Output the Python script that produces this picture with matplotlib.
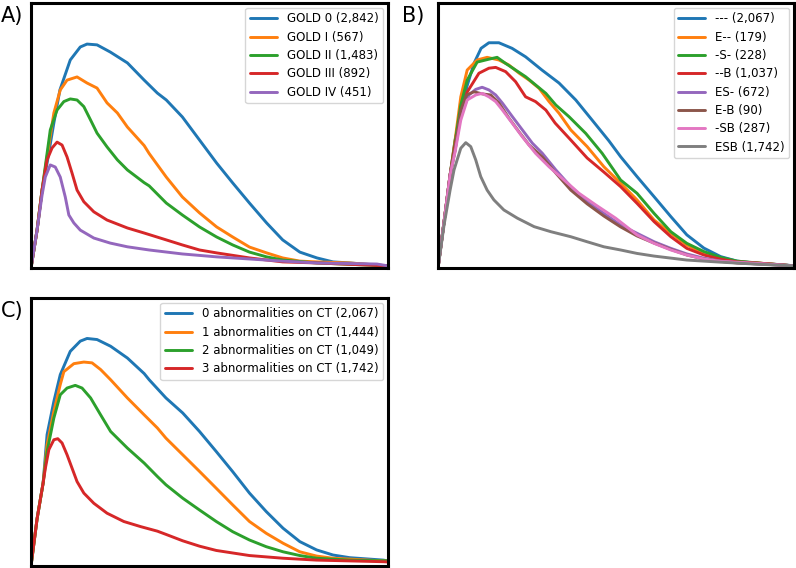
import matplotlib
matplotlib.use('Agg')
import matplotlib.pyplot as plt

# x: % of expired volume, y: flow (scaled so that the axes top is 10)

# ---- A) GOLD stages
gold_labels = ['GOLD 0 (2,842)', 'GOLD I (567)', 'GOLD II (1,483)', 'GOLD III (892)', 'GOLD IV (451)']

gold0_x = [0, 1.7, 3.1, 4.5, 6.4, 8.1, 11.0, 13.8, 15.7, 18.5, 22.2, 27.0, 31.7, 35.4, 37.9, 42.4, 47.2,
           52.0, 56.5, 61.2, 66.0, 70.5, 75.3, 80.1, 84.6, 89.3, 96.9, 100]
gold0_y = [0, 1.43, 2.94, 3.96, 5.47, 6.72, 7.85, 8.34, 8.45, 8.42, 8.15, 7.74, 7.09, 6.60, 6.34, 5.70, 4.83,
           3.96, 3.21, 2.45, 1.70, 1.06, 0.60, 0.38, 0.23, 0.19, 0.11, 0.08]

gold1_x = [0, 1.7, 3.1, 4.5, 6.4, 8.2, 10.1, 12.9, 15.7, 18.5, 21.3, 24.2, 27.0, 31.7, 33.1, 37.9, 42.4,
           47.2, 52.0, 56.5, 61.2, 66.0, 70.5, 75.3, 80.1, 89.3, 100]
gold1_y = [0, 1.43, 2.94, 4.19, 5.85, 6.72, 7.09, 7.21, 6.98, 6.79, 6.23, 5.85, 5.32, 4.62, 4.32, 3.43, 2.68,
           2.08, 1.55, 1.17, 0.79, 0.57, 0.38, 0.26, 0.23, 0.19, 0.08]

gold2_x = [0, 1.7, 3.1, 5.4, 7.3, 9.2, 11.0, 12.9, 14.8, 16.7, 18.5, 21.3, 24.2, 27.0, 31.7, 33.1, 37.9,
           42.4, 47.2, 52.0, 56.5, 61.2, 66.0, 70.5, 80.1, 100]
gold2_y = [0, 1.43, 2.94, 5.21, 5.96, 6.28, 6.38, 6.34, 6.09, 5.58, 5.09, 4.57, 4.08, 3.70, 3.22, 3.10, 2.45,
           2.00, 1.55, 1.17, 0.87, 0.60, 0.42, 0.30, 0.19, 0.08]

gold3_x = [0, 1.7, 3.1, 4.5, 5.9, 7.3, 8.7, 10.1, 11.5, 12.9, 14.8, 17.6, 21.3, 27.0, 31.7, 37.9, 42.4,
           47.2, 52.0, 61.2, 70.5, 80.1, 100]
gold3_y = [0, 1.43, 2.94, 4.08, 4.53, 4.75, 4.64, 4.19, 3.58, 2.94, 2.50, 2.12, 1.81, 1.51, 1.32, 1.06, 0.87,
           0.68, 0.57, 0.38, 0.23, 0.19, 0.08]

gold4_x = [0, 1.7, 3.1, 4.0, 5.4, 6.8, 8.2, 9.6, 10.6, 12.0, 13.8, 17.6, 22.2, 27.0, 33.1, 42.4, 52.0,
           61.2, 70.5, 80.1, 96.9, 100]
gold4_y = [0, 1.43, 2.75, 3.43, 3.89, 3.81, 3.43, 2.68, 2.00, 1.70, 1.43, 1.13, 0.94, 0.80, 0.68, 0.53, 0.42,
           0.34, 0.26, 0.19, 0.15, 0.08]

# ---- B) emphysema / small airways / bronchial wall combinations
esb_labels = ['--- (2,067)', 'E-- (179)', '-S- (228)', '--B (1,037)', 'ES- (672)', 'E-B (90)', '-SB (287)', 'ESB (1,742)']

none_x = [0, 1.7, 3.4, 4.8, 6.5, 8.1, 10.1, 12.1, 14.3, 17.1, 20.8, 24.6, 29.2, 34.0, 38.7, 43.3, 48.0,
          51.3, 55.9, 60.7, 65.4, 69.9, 74.7, 79.4, 84.0, 88.8, 98.0, 100]
none_y = [0, 1.74, 3.51, 4.83, 5.77, 6.84, 7.72, 8.29, 8.50, 8.50, 8.29, 7.97, 7.47, 6.98, 6.34, 5.58, 4.80,
          4.20, 3.45, 2.69, 1.94, 1.25, 0.75, 0.43, 0.26, 0.19, 0.11, 0.08]

e_x = [0, 1.7, 3.4, 4.8, 6.4, 8.2, 11.0, 13.8, 17.1, 19.9, 22.8, 25.6, 28.4, 31.2, 34.0, 37.3, 41.9,
       46.6, 51.3, 55.9, 60.7, 65.4, 69.9, 74.7, 79.4, 84.0, 90.6, 100]
e_y = [0, 1.74, 3.51, 4.83, 6.46, 7.47, 7.85, 7.95, 7.85, 7.66, 7.35, 7.09, 6.78, 6.28, 5.84, 5.21, 4.58,
       3.82, 3.20, 2.57, 1.81, 1.31, 0.87, 0.55, 0.37, 0.24, 0.18, 0.08]

s_x = [0, 1.7, 3.4, 4.8, 6.4, 8.2, 11.0, 14.3, 16.6, 19.0, 21.8, 24.6, 27.4, 30.3, 33.1, 36.8, 41.5,
       46.1, 51.3, 55.9, 60.7, 65.4, 69.9, 74.7, 79.4, 84.0, 90.6, 100]
s_y = [0, 1.74, 3.51, 4.75, 6.15, 7.09, 7.77, 7.88, 7.95, 7.72, 7.47, 7.22, 6.91, 6.59, 6.15, 5.71, 5.08,
       4.33, 3.32, 2.82, 2.06, 1.37, 0.93, 0.62, 0.40, 0.26, 0.18, 0.08]

b_x = [0, 1.7, 3.4, 4.8, 6.4, 8.2, 11.5, 14.3, 16.2, 19.0, 21.8, 24.6, 27.4, 30.3, 32.9, 37.3, 41.9,
       46.6, 51.3, 55.9, 60.7, 65.4, 69.9, 74.7, 79.4, 84.0, 90.6, 100]
b_y = [0, 1.74, 3.51, 4.64, 5.77, 6.64, 7.35, 7.54, 7.57, 7.41, 7.03, 6.46, 6.28, 5.96, 5.47, 4.83, 4.15,
       3.62, 3.07, 2.44, 1.75, 1.18, 0.74, 0.49, 0.33, 0.23, 0.18, 0.08]

es_x = [0, 1.7, 3.4, 4.8, 6.4, 8.7, 10.6, 12.4, 14.3, 16.2, 18.1, 20.9, 23.7, 26.5, 29.3, 33.1, 37.3,
        41.9, 46.6, 51.3, 55.9, 60.7, 65.4, 69.9, 74.7, 79.4, 84.0, 90.6, 100]
es_y = [0, 1.74, 3.51, 4.45, 5.77, 6.53, 6.74, 6.82, 6.72, 6.53, 6.22, 5.71, 5.21, 4.71, 4.33, 3.70, 3.07,
        2.50, 2.06, 1.62, 1.31, 0.99, 0.74, 0.53, 0.37, 0.26, 0.20, 0.15, 0.08]

eb_x = [0, 1.7, 3.4, 4.8, 6.4, 8.1, 10.1, 12.4, 14.8, 17.1, 19.9, 22.8, 25.6, 29.3, 33.1, 37.3, 41.9,
        46.6, 51.3, 55.9, 60.7, 65.4, 69.9, 74.7, 79.4, 84.0, 90.6, 100]
eb_y = [0, 1.74, 3.51, 4.45, 5.96, 6.53, 6.65, 6.57, 6.53, 6.23, 5.66, 5.13, 4.64, 4.19, 3.58, 2.94, 2.42,
        1.96, 1.55, 1.21, 0.94, 0.70, 0.49, 0.34, 0.25, 0.19, 0.15, 0.08]

sb_x = [0, 1.7, 3.4, 4.8, 6.4, 8.2, 10.6, 12.4, 14.3, 16.2, 18.1, 20.9, 23.7, 27.4, 31.2, 34.9, 39.6,
        44.3, 49.9, 55.9, 60.7, 65.4, 69.9, 74.7, 79.4, 88.8, 100]
sb_y = [0, 1.74, 3.51, 4.38, 5.58, 6.34, 6.53, 6.59, 6.46, 6.28, 5.96, 5.46, 4.95, 4.33, 3.82, 3.38, 2.82,
        2.38, 1.88, 1.25, 0.93, 0.68, 0.49, 0.34, 0.25, 0.18, 0.08]

esb_x = [0, 1.7, 3.4, 4.5, 6.4, 7.8, 9.2, 10.6, 12.0, 13.8, 15.7, 18.5, 22.3, 27.0, 31.7, 37.3, 41.9,
         46.6, 51.3, 55.9, 60.7, 69.9, 79.4, 88.8, 100]
esb_y = [0, 1.62, 2.94, 3.70, 4.52, 4.73, 4.58, 4.08, 3.45, 2.94, 2.57, 2.19, 1.88, 1.56, 1.37, 1.18, 0.99,
         0.80, 0.68, 0.55, 0.45, 0.30, 0.22, 0.15, 0.08]

# ---- C) number of CT abnormalities
ct_labels = ['0 abnormalities on CT (2,067)', '1 abnormalities on CT (1,444)',
             '2 abnormalities on CT (1,049)', '3 abnormalities on CT (1,742)']

ct0_x = [0, 1.7, 3.4, 4.5, 6.4, 8.2, 11.0, 13.8, 15.7, 18.5, 22.3, 27.0, 31.7, 33.1, 37.8, 42.5, 47.2,
         51.9, 56.5, 61.2, 65.9, 70.6, 75.3, 80.0, 84.6, 89.3, 98.7, 100]
ct0_y = [0, 1.76, 3.10, 4.90, 6.14, 7.14, 8.01, 8.39, 8.49, 8.45, 8.20, 7.76, 7.18, 6.95, 6.27, 5.71, 5.02,
         4.27, 3.52, 2.72, 2.03, 1.41, 0.91, 0.60, 0.41, 0.31, 0.22, 0.19]

ct1_x = [0, 1.7, 3.4, 4.5, 6.4, 8.2, 9.2, 12.0, 14.8, 17.1, 19.5, 22.3, 27.0, 31.7, 35.4, 37.8, 42.5,
         47.2, 51.9, 56.5, 61.2, 65.9, 70.6, 75.3, 80.0, 84.6, 98.7, 100]
ct1_y = [0, 1.76, 3.10, 4.52, 5.77, 6.77, 7.25, 7.55, 7.61, 7.58, 7.33, 6.95, 6.27, 5.64, 5.15, 4.77, 4.15,
         3.53, 2.90, 2.28, 1.66, 1.22, 0.85, 0.53, 0.37, 0.29, 0.19, 0.19]

ct2_x = [0, 1.7, 3.4, 4.5, 6.4, 8.2, 10.1, 12.4, 14.3, 16.7, 19.5, 22.3, 27.0, 31.7, 35.4, 37.8, 42.5,
         47.2, 51.9, 56.5, 61.2, 65.9, 70.6, 75.3, 80.0, 89.3, 100]
ct2_y = [0, 1.76, 3.10, 4.27, 5.52, 6.39, 6.64, 6.74, 6.64, 6.27, 5.64, 5.02, 4.40, 3.84, 3.34, 3.03, 2.53,
         2.09, 1.66, 1.28, 0.97, 0.72, 0.53, 0.39, 0.29, 0.22, 0.19]

ct3_x = [0, 1.7, 3.4, 4.0, 5.0, 6.4, 7.5, 8.7, 10.1, 11.5, 12.9, 14.8, 17.6, 21.3, 26.0, 30.7, 35.4,
         37.8, 42.5, 47.2, 51.9, 61.2, 70.6, 80.0, 98.7, 100]
ct3_y = [0, 1.76, 3.10, 3.63, 4.34, 4.71, 4.75, 4.59, 4.15, 3.65, 3.15, 2.72, 2.34, 1.97, 1.66, 1.47, 1.30,
         1.18, 0.94, 0.74, 0.58, 0.39, 0.29, 0.22, 0.16, 0.15]


W, H = 796, 568
fig = plt.figure(figsize=(W / 100, H / 100), dpi=100)


def make_axes(x0, y0, x1, y1):
    # pixel box (left, top, right, bottom) -> figure fraction
    ax = fig.add_axes([x0 / W, 1 - y1 / H, (x1 - x0) / W, (y1 - y0) / H])
    ax.set_xlim(0, 100)
    ax.set_ylim(0, 10)
    ax.set_xticks([])
    ax.set_yticks([])
    for sp in ax.spines.values():
        sp.set_linewidth(2.2)
        sp.set_color('black')
    return ax


def draw(ax, xs, ys, labels):
    for i, (x, y) in enumerate(zip(xs, ys)):
        ax.plot(x, y, color='C%d' % i, lw=2.1, label=labels[i],
                solid_joinstyle='round', solid_capstyle='round')
    ax.legend(loc='upper right', fontsize=8.5, handlelength=2.3, borderaxespad=0.4,
              labelspacing=0.45, framealpha=0.8)


axA = make_axes(31, 3, 388, 268)
draw(axA, [gold0_x, gold1_x, gold2_x, gold3_x, gold4_x],
     [gold0_y, gold1_y, gold2_y, gold3_y, gold4_y], gold_labels)

axB = make_axes(438, 3, 794, 268)
draw(axB, [none_x, e_x, s_x, b_x, es_x, eb_x, sb_x, esb_x],
     [none_y, e_y, s_y, b_y, es_y, eb_y, sb_y, esb_y], esb_labels)

axC = make_axes(31, 298, 388, 566)
draw(axC, [ct0_x, ct1_x, ct2_x, ct3_x],
     [ct0_y, ct1_y, ct2_y, ct3_y], ct_labels)

fig.text(1 / W, 1 - 16 / H, 'A)', fontsize=15, va='center', ha='left')
fig.text(402 / W, 1 - 16 / H, 'B)', fontsize=15, va='center', ha='left')
fig.text(1 / W, 1 - 311 / H, 'C)', fontsize=15, va='center', ha='left')

fig.savefig('out.png', dpi=100)
